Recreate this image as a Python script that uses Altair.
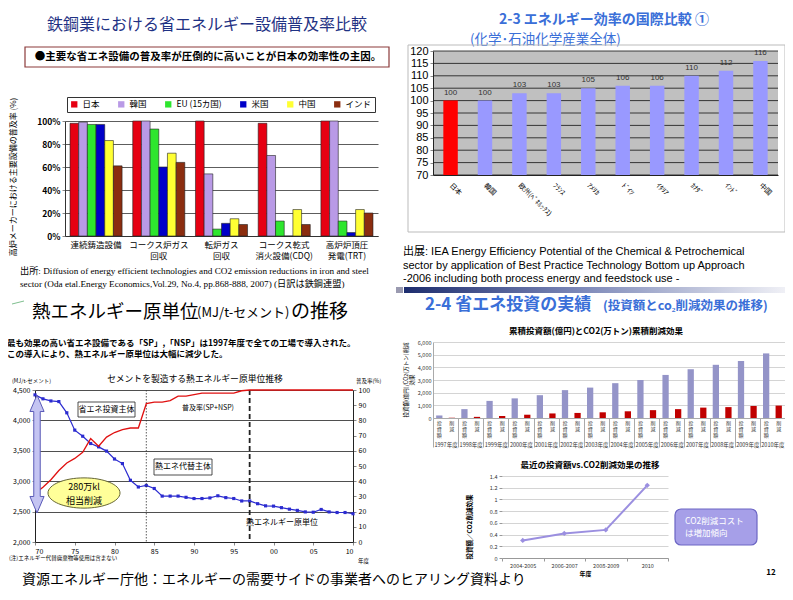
import altair as alt
import pandas as pd

W, H = 777, 584
M = 8
JP = "Noto Sans CJK JP"
SANS = "Liberation Sans, Noto Sans CJK JP"
SERIF = "Liberation Serif, Noto Sans CJK JP"
BLUE = "#3a6fd8"


def X(v):
    return v - M


def Y(v):
    return v - M


ONE = alt.Data(values=[{"k": 0}])

# ---------------- data ----------------
steel_groups = ["連続鋳造設備", "コークス炉ガス|回収", "転炉ガス|回収", "コークス乾式|消火設備(CDQ)", "高炉炉頂圧|発電(TRT)"]
steel_countries = ["日本", "韓国", "EU (15カ国)", "米国", "中国", "インド"]
steel_colors = ["#e60012", "#b99ae6", "#2ee62e", "#0000c8", "#ffff33", "#8b2d0f"]
steel_japan = [98, 100, 100, 98, 100]
steel_korea = [99, 100, 54, 70, 100]
steel_eu = [97, 93, 6, 13, 13]
steel_us = [97, 60, 11, 0, 3]
steel_china = [83, 72, 15, 23, 23]
steel_india = [61, 64, 10, 10, 20]
steel_ticks = [0, 20, 40, 60, 80, 100]

chem_countries = ["日本", "韓国", "欧州(ﾍﾞﾈﾙｯｸｽ)", "ﾌﾗﾝｽ", "ｱﾒﾘｶ", "ﾄﾞｲﾂ", "ｲﾀﾘｱ", "ｶﾅﾀﾞ", "ｲﾝﾄﾞ", "中国"]
chem_values = [100, 100, 103, 103, 105, 106, 106, 110, 112, 116]
chem_ticks = [70, 75, 80, 85, 90, 95, 100, 105, 110, 115, 120]

cement_years = list(range(1970, 2011))
cement_heat = [4420, 4355, 4320, 4310, 4125, 3840, 3740, 3620, 3565, 3495,
               3365, 3290, 3015, 2905, 2930, 2880, 2755, 2755, 2755, 2735,
               2715, 2715, 2725, 2760, 2730, 2715, 2675, 2675, 2630, 2595,
               2590, 2565, 2540, 2520, 2495, 2490, 2535, 2495, 2485, 2485,
               2465]
cement_rate = [32, 36, 41, 47, 52, 55, 59, 68, 63, 69,
               72, 74, 75, 75, 91, 92, 92, 93, 96, 96,
               97, 98, 98, 98, 98, 98, 99.5, 100, 100, 100,
               100, 100, 100, 100, 100, 100, 100, 100, 100, 100,
               100]
cement_heat_ticks = [2000, 2500, 3000, 3500, 4000, 4500]
cement_rate_ticks = [0, 10, 20, 30, 40, 50, 60, 70, 80, 90, 100]
cement_year_ticks = [1970, 1975, 1980, 1985, 1990, 1995, 2000, 2005, 2010]
cement_phase_year = [1984]
cement_full_year = [1997]

inv_years = ["1997年度", "1998年度", "1999年度", "2000年度", "2001年度", "2002年度", "2003年度",
             "2004年度", "2005年度", "2006年度", "2007年度", "2008年度", "2009年度", "2010年度"]
inv_amount = [200, 700, 1350, 1550, 1800, 2200, 2400, 2750, 3000, 3400, 3850, 4200, 4500, 5100]
inv_reduction = [20, 90, 160, 260, 360, 400, 450, 530, 620, 700, 820, 860, 950, 980]
inv_series = ["投資額", "削減"]
inv_series_labels = ["投\n資\n額", "削\n減"]
inv_ticks = [0, 1000, 2000, 3000, 4000, 5000, 6000]

ratio_periods = ["2004-2005", "2006-2007", "2008-2009", "2010"]
ratio_values = [0.30, 0.42, 0.48, 1.24]
ratio_ticks = [0, 0.2, 0.4, 0.6, 0.8, 1.0, 1.2, 1.4]


# ---------------- helpers ----------------
def T(s, x, y, size=10, color="black", weight="normal", align="center", font=JP, angle=0, baseline="middle", lh=None):
    kw = dict(text=s, fontSize=size, color=color, fontWeight=weight, align=align, font=font, baseline=baseline)
    if angle:
        kw["angle"] = angle
    if lh:
        kw["lineHeight"] = lh
    return alt.Chart(ONE).mark_text(**kw).encode(x=alt.value(X(x)), y=alt.value(Y(y)))


def R(x0, y0, x1, y1, fill=None, stroke="black", sw=1.0, r=0):
    kw = dict(cornerRadius=r)
    if fill is None:
        kw["fill"] = "white"
        kw["fillOpacity"] = 0
    else:
        kw["fill"] = fill
    if stroke:
        kw["stroke"] = stroke
        kw["strokeWidth"] = sw
    else:
        kw["strokeWidth"] = 0
    return alt.Chart(ONE).mark_rect(**kw).encode(
        x=alt.value(X(x0)), x2=alt.value(X(x1)), y=alt.value(Y(y0)), y2=alt.value(Y(y1)))


layers = []

# ---------------- top-left: steel ----------------
layers.append(T("鉄鋼業における省エネルギー設備普及率比較", 207, 25, size=16, color="#1f3284"))
layers.append(R(25, 47, 389, 67, stroke="#8b3a3a", sw=1.2))
layers.append(T("●主要な省エネ設備の普及率が圧倒的に高いことが日本の効率性の主因。", 208, 57, size=10.5, weight="bold"))

steel_rows = []
for c, vals in zip(steel_countries, [steel_japan, steel_korea, steel_eu, steel_us, steel_china, steel_india]):
    for g, v in zip(steel_groups, vals):
        steel_rows.append({"group": g, "country": c, "value": v})
steel_df = pd.DataFrame(steel_rows)

steel_chart = alt.Chart(steel_df).mark_bar(stroke="#222", strokeWidth=0.6).encode(
    x=alt.X("group:N", sort=steel_groups,
            scale=alt.Scale(range=[X(65), X(378)], paddingInner=0.17, paddingOuter=0.08),
            axis=alt.Axis(orient="bottom", offset=Y(236) - H, title=None, labelAngle=0,
                          labelExpr="split(datum.label, '|')", labelFontSize=8.5, labelLineHeight=11,
                          tickSize=0, labelPadding=4, domainColor="#333", labelColor="black")),
    xOffset=alt.XOffset("country:N", sort=steel_countries, scale=alt.Scale(paddingInner=0, paddingOuter=0)),
    y=alt.Y("value:Q", scale=alt.Scale(domain=[0, 100], range=[Y(236), Y(121)], nice=False),
            axis=alt.Axis(orient="left", offset=-X(65), values=steel_ticks, labelExpr="datum.value + '%'",
                          grid=True, gridColor="#333", gridWidth=0.8, title=None, labelFontSize=8.5,
                          labelFontWeight="bold", tickSize=3, domainColor="#333", labelColor="black")),
    color=alt.Color("country:N", sort=steel_countries,
                    scale=alt.Scale(domain=steel_countries, range=steel_colors),
                    legend=alt.Legend(orient="none", legendX=X(67), legendY=Y(97), direction="horizontal",
                                      title=None, strokeColor="#333", padding=3, symbolType="square",
                                      symbolSize=40, labelFontSize=8.5, columnPadding=17,
                                      symbolStrokeWidth=0, labelColor="black")),
)
layers.append(steel_chart)
layers.append(T("高炉メーカーにおける主要設備の普及率 (%)", 14, 177, size=8, angle=270))
layers.append(T("出所: Diffusion of energy efficient technologies and CO2 emission reductions in iron and steel",
                20, 271, size=9.2, align="left", font=SERIF))
layers.append(T("sector (Oda etal.Energy Economics,Vol.29, No.4, pp.868-888, 2007) (日訳は鉄鋼連盟)",
                20, 284, size=9.2, align="left", font=SERIF))

# ---------------- left-bottom: cement ----------------
layers.append(alt.Chart(ONE).mark_rule(color="#7fbf8f", strokeWidth=1).encode(
    x=alt.value(X(12)), x2=alt.value(X(24)), y=alt.value(Y(304)), y2=alt.value(Y(301))))
layers.append(T("熱エネルギー原単位", 32, 312, size=18.5, align="left"))
layers.append(T("(MJ/t-セメント)", 197, 313, size=13, align="left"))
layers.append(T("の推移", 291, 312, size=19, align="left"))
layers.append(T("最も効果の高い省エネ設備である「SP」,「NSP」は1997年度で全ての工場で導入された。", 7, 343,
                size=8.5, weight="bold", align="left"))
layers.append(T("この導入により、熱エネルギー原単位は大幅に減少した。", 7, 354, size=8.5, weight="bold", align="left"))
layers.append(T("セメントを製造する熱エネルギー原単位推移", 195, 379, size=8.8))
layers.append(T("(MJ/t-セメント)", 12, 381, size=5.5, align="left"))
layers.append(T("普及率(%)", 356, 381, size=5.5, align="left"))

cement_df = pd.DataFrame({"year": cement_years, "heat": cement_heat, "rate": cement_rate})
cem_x_scale = alt.Scale(domain=[1970, 2010], range=[X(35), X(353)], nice=False, zero=False)
cem_x_axis = alt.Axis(orient="bottom", offset=Y(542) - H, values=cement_year_ticks,
                      labelExpr="substring('' + datum.value, 2, 4)", title=None, labelFontSize=7,
                      tickSize=3, domainColor="#222", labelColor="black", labelOverlap=False)
heat_y_scale = alt.Scale(domain=[2000, 4500], range=[Y(542), Y(390)], nice=False, zero=False)

heat_line = alt.Chart(cement_df).mark_line(
    color="#2b2bd0", strokeWidth=1.2,
    point=alt.OverlayMarkDef(shape="square", size=10, filled=True, color="#2b2bd0")).encode(
    x=alt.X("year:Q", scale=cem_x_scale, axis=cem_x_axis),
    y=alt.Y("heat:Q", scale=heat_y_scale,
            axis=alt.Axis(orient="left", offset=-X(35), values=cement_heat_ticks, format=",d",
                          grid=True, gridColor="#222", gridWidth=0.8, title=None, labelFontSize=7,
                          tickSize=3, domainColor="#222", labelColor="black")),
)
phase_rule = alt.Chart(pd.DataFrame({"year": cement_phase_year})).mark_rule(
    color="#333", strokeWidth=0.8, strokeDash=[1.5, 1.5]).encode(
    x=alt.X("year:Q", scale=cem_x_scale, axis=cem_x_axis), y=alt.value(Y(390)), y2=alt.value(Y(542)))
full_rule = alt.Chart(pd.DataFrame({"year": cement_full_year})).mark_rule(
    color="#222", strokeWidth=1.8, strokeDash=[5, 3]).encode(
    x=alt.X("year:Q", scale=cem_x_scale, axis=cem_x_axis), y=alt.value(Y(390)), y2=alt.value(Y(542)))
layers.append(alt.layer(heat_line, phase_rule, full_rule))

rate_line = alt.Chart(cement_df).mark_line(color="#e01010", strokeWidth=1.3).encode(
    x=alt.X("year:Q", scale=cem_x_scale, axis=None),
    y=alt.Y("rate:Q", scale=alt.Scale(domain=[0, 100], range=[Y(542), Y(390)], nice=False),
            axis=alt.Axis(orient="right", offset=X(353) - W, values=cement_rate_ticks, title=None,
                          labelFontSize=7, tickSize=3, grid=False, domainColor="#222", labelColor="black")),
)
layers.append(rate_line)

layers.append(R(78, 402, 135, 417, fill="white", stroke="#222", sw=0.8))
layers.append(T("省エネ投資主体", 106.5, 409.5, size=8))
layers.append(T("普及率(SP+NSP)", 208, 408, size=7))
layers.append(R(154, 459, 212, 475, fill="white", stroke="#222", sw=0.8))
layers.append(T("熱エネ代替主体", 183, 467, size=8))
layers.append(T("熱エネルギー原単位", 282, 523, size=8))

arrow_path = ("M0,-1 L0.12,-0.72 L0.055,-0.72 L0.055,0.72 L0.12,0.72 L0,1 "
              "L-0.12,0.72 L-0.055,0.72 L-0.055,-0.72 L-0.12,-0.72 Z")
layers.append(alt.Chart(ONE).mark_point(shape=arrow_path, size=118 * 118, filled=True, fill="#c4c4f2",
                                        stroke="#5a5ab8", strokeWidth=1, opacity=1).encode(
    x=alt.value(X(37)), y=alt.value(Y(454))))
ellipse_path = "M-1,0 A1,0.42 0 1,0 1,0 A1,0.42 0 1,0 -1,0 Z"
layers.append(alt.Chart(ONE).mark_point(shape=ellipse_path, size=72 * 72, filled=True, fill="#ffff99",
                                        stroke="#666633", strokeWidth=1, opacity=1).encode(
    x=alt.value(X(84)), y=alt.value(Y(493))))
layers.append(T("280万kl", 84, 487, size=9))
layers.append(T("相当削減", 84, 500.5, size=9))
layers.append(T("(注)エネルギー代替廃棄物等使用は含まない", 9, 558, size=5.5, align="left"))
layers.append(T("年度", 358, 561, size=5.5, align="left"))
layers.append(T("資源エネルギー庁他：エネルギーの需要サイドの事業者へのヒアリング資料より", 22, 580, size=14, align="left"))

# ---------------- top-right: chemical ----------------
layers.append(T("2-3 エネルギー効率の国際比較  ①", 604, 20, size=14, color=BLUE, weight="bold"))
layers.append(T("(化学･石油化学産業全体)", 470, 39.5, size=13.5, color=BLUE, align="left"))
layers.append(R(408, 45, 785, 232, stroke="#bbbbbb", sw=1))
layers.append(R(433, 51, 778, 175, fill="#c0c0c0", stroke=None))

chem_df = pd.DataFrame({"country": chem_countries, "value": chem_values})
chem_x_scale = alt.Scale(range=[X(433), X(778)], paddingInner=0.58, paddingOuter=0.3)
chem_y_scale = alt.Scale(domain=[70, 120], range=[Y(175), Y(51)], nice=False, zero=False)
chem_x_axis = alt.Axis(orient="bottom", offset=Y(175) - H, title=None, labelAngle=45, labelAlign="left",
                       labelBaseline="middle", labelFontSize=7, tickSize=0, labelPadding=9,
                       domainColor="#222", labelColor="black", zindex=1)
chem_y_axis = alt.Axis(orient="left", offset=-X(433), values=chem_ticks, grid=False, title=None,
                       labelFontSize=11, labelFont="Liberation Sans", tickSize=3, domainColor="#222",
                       labelColor="black", zindex=1)
chem_grid = alt.Chart(pd.DataFrame({"value": chem_ticks})).mark_rule(color="#111", strokeWidth=0.8).encode(
    y=alt.Y("value:Q", scale=chem_y_scale, axis=chem_y_axis),
    x=alt.value(X(433)), x2=alt.value(X(778)),
)
chem_bars = alt.Chart(chem_df).mark_bar().encode(
    x=alt.X("country:N", sort=chem_countries, scale=chem_x_scale, axis=chem_x_axis),
    y=alt.Y("value:Q", scale=chem_y_scale, axis=chem_y_axis),
    y2=alt.datum(70),
    color=alt.condition(alt.datum.country == "日本", alt.value("#ff0000"), alt.value("#9999ff")),
)
chem_text = alt.Chart(chem_df).mark_text(dy=-8, fontSize=8, color="#333", font="Liberation Sans").encode(
    x=alt.X("country:N", sort=chem_countries, scale=chem_x_scale, axis=chem_x_axis),
    y=alt.Y("value:Q", scale=chem_y_scale, axis=chem_y_axis),
    text="value:Q",
)
layers.append(alt.layer(chem_grid, chem_bars, chem_text))
layers.append(T("出展: IEA Energy Efficiency Potential of the Chemical & Petrochemical", 403, 252, size=11,
                align="left", font=SANS))
layers.append(T("sector by application of Best Practice Technology Bottom up Approach", 403, 265.5, size=11,
                align="left", font=SANS))
layers.append(T("-2006    including both process energy and feedstock use  -", 403, 279, size=11,
                align="left", font=SANS))

# ---------------- bottom-right: investment ----------------
grad = alt.Gradient(gradient="linear", x1=0, y1=0, x2=1, y2=0,
                    stops=[alt.GradientStop(color="#1d2d6e", offset=0),
                           alt.GradientStop(color="#7c88b8", offset=0.45),
                           alt.GradientStop(color="#f4f4f8", offset=1)])
layers.append(alt.Chart(ONE).mark_rect(color=grad).encode(
    x=alt.value(X(404)), x2=alt.value(X(793)), y=alt.value(Y(287)), y2=alt.value(Y(293))))
layers.append(R(396, 287, 403, 293, fill="#9a9ab0", stroke=None))
layers.append(T("2-4  省エネ投資の実績", 425, 305, size=17, color=BLUE, weight="bold", align="left"))
layers.append(T("(投資額とco₂削減効果の推移)", 603, 306, size=12.5, color=BLUE, weight="bold", align="left"))
layers.append(T("累積投資額(億円)とCO2(万トン)累積削減効果", 596, 331, size=8.5, weight="bold"))
layers.append(T(["投資額(億円)/CO2(万トン)削減", "効果"], 406, 380, size=5.5, angle=270, lh=6))

inv_rows = []
for yv, a, r in zip(inv_years, inv_amount, inv_reduction):
    inv_rows.append({"year": yv, "series": inv_series[0], "value": a, "lab": inv_series_labels[0]})
    inv_rows.append({"year": yv, "series": inv_series[1], "value": r, "lab": inv_series_labels[1]})
inv_df = pd.DataFrame(inv_rows)
inv_x_scale = alt.Scale(range=[X(433), X(785)], paddingInner=0, paddingOuter=0)
inv_off_scale = alt.Scale(paddingInner=0.5, paddingOuter=0.25)
inv_x_axis = alt.Axis(orient="bottom", offset=Y(418) - H, title=None, labelAngle=0, tickBand="extent",
                      tickSize=29, tickColor="#aaa", labelFontSize=5.5, labelPadding=0,
                      labelBaseline="bottom", domainColor="#aaa", labelColor="#333")
inv_bars = alt.Chart(inv_df).mark_bar().encode(
    x=alt.X("year:N", sort=inv_years, scale=inv_x_scale, axis=inv_x_axis),
    xOffset=alt.XOffset("series:N", sort=inv_series, scale=inv_off_scale),
    y=alt.Y("value:Q", scale=alt.Scale(domain=[0, 6000], range=[Y(418), Y(342)], nice=False),
            axis=alt.Axis(orient="left", offset=-X(433), values=inv_ticks, grid=True, gridColor="#d4d4d4",
                          title=None, labelFontSize=5.5, tickSize=0, domainColor="#aaa", labelColor="#333")),
    color=alt.Color("series:N", sort=inv_series,
                    scale=alt.Scale(domain=inv_series, range=["#9494c8", "#c00000"]), legend=None),
)
inv_labels = alt.Chart(inv_df).mark_text(lineBreak="\n", fontSize=5, lineHeight=6, baseline="top",
                                         color="#333").encode(
    x=alt.X("year:N", sort=inv_years, scale=inv_x_scale, axis=inv_x_axis),
    xOffset=alt.XOffset("series:N", sort=inv_series, scale=inv_off_scale),
    y=alt.value(Y(421)),
    text="lab:N",
)
layers.append(alt.layer(inv_bars, inv_labels))

# ---------------- ratio line ----------------
layers.append(T("最近の投資額vs.CO2削減効果の推移", 590, 465, size=8.5, weight="bold"))
layers.append(T("投資額／CO2削減効果", 470, 527, size=6.5, weight="bold", angle=270))
ratio_df = pd.DataFrame({"period": ratio_periods, "ratio": ratio_values})
ratio_line = alt.Chart(ratio_df).mark_line(
    color="#9b8fe0", strokeWidth=2,
    point=alt.OverlayMarkDef(shape="diamond", size=28, filled=True, color="#9b8fe0")).encode(
    x=alt.X("period:N", sort=ratio_periods,
            scale=alt.Scale(range=[X(502), X(668)], paddingInner=0, paddingOuter=0),
            axis=alt.Axis(orient="bottom", offset=Y(558) - H, title="年度", titleFontSize=6,
                          titleFontWeight="bold", titlePadding=2, labelFontSize=5.5, labelAngle=0,
                          tickBand="extent", tickSize=3, domainColor="#999", tickColor="#999",
                          labelColor="#333")),
    y=alt.Y("ratio:Q", scale=alt.Scale(domain=[0, 1.4], range=[Y(558), Y(476)], nice=False),
            axis=alt.Axis(orient="left", offset=-X(502), values=ratio_ticks, format="~g", grid=True,
                          gridColor="#d4d4d4", title=None, labelFontSize=5.5, tickSize=3, domain=False,
                          tickColor="#999", labelColor="#333")),
)
layers.append(ratio_line)
layers.append(R(675, 509, 757, 545, fill="#a69fe8", stroke="#6c66c4", sw=1.2, r=6))
layers.append(T("CO2削減コスト", 685, 521, size=8.5, color="white", align="left"))
layers.append(T("は増加傾向", 685, 533, size=8.5, color="white", align="left"))
layers.append(T("12", 771, 573, size=8, weight="bold"))

chart = alt.layer(*layers).resolve_scale(
    x="independent", y="independent", color="independent", xOffset="independent"
).properties(
    width=W, height=H, autosize=alt.AutoSizeParams(type="none"), padding=0
).configure(font=JP).configure_view(stroke=None).configure_axis(labelFont=JP, titleFont=JP)

chart.save("out.html", embed_options={"renderer": "svg", "actions": False})
